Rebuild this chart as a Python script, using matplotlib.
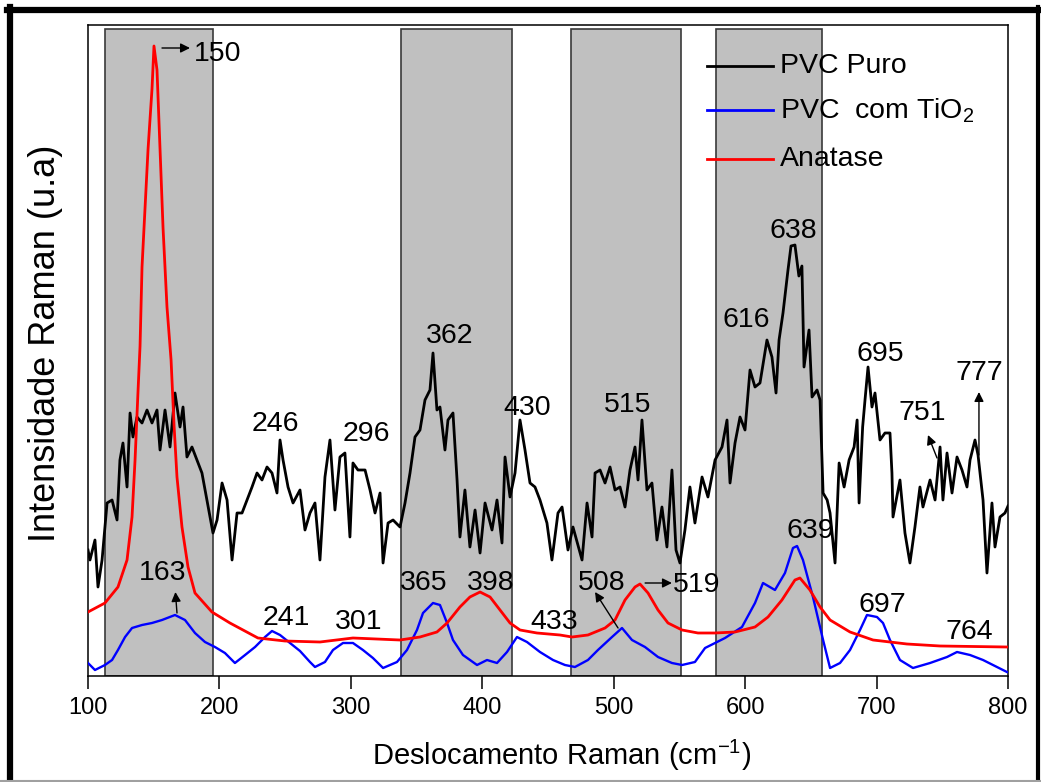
import matplotlib
matplotlib.use("Agg")
import matplotlib.pyplot as plt
from matplotlib.lines import Line2D
from matplotlib.patches import Rectangle

plt.rcParams["font.family"] = ["Liberation Sans", "DejaVu Sans"]
plt.rcParams["mathtext.fontset"] = "custom"
plt.rcParams["mathtext.rm"] = "Liberation Sans"
plt.rcParams["mathtext.it"] = "Liberation Sans"

# =========================
# dados
# =========================

# PVC Puro (preto)
pvc_x = [100.0, 101.5, 105.3, 107.6, 110.7, 114.5, 118.3, 122.1, 124.3, 126.6,
         129.7, 132.0, 134.2, 137.3, 141.1, 144.9, 148.7, 152.5, 154.8, 158.6,
         162.4, 166.2, 170.0, 172.3, 175.3, 179.1, 182.9, 186.7, 190.5, 195.1,
         198.2, 202.0, 205.8, 209.6, 213.4, 217.2, 221.0, 224.8, 228.6, 232.4,
         236.2, 240.0, 243.8, 246.1, 248.4, 252.2, 256.0, 261.3, 265.1, 268.9,
         272.7, 276.5, 280.3, 284.1, 287.9, 291.7, 295.5, 299.3, 301.6, 305.4,
         310.8, 314.6, 318.4, 322.2, 324.5, 328.3, 332.1, 337.4, 341.2, 345.0,
         348.8, 352.6, 356.4, 360.2, 362.5, 365.5, 367.8, 371.6, 373.9, 377.7,
         380.8, 383.0, 386.8, 390.6, 394.5, 398.3, 402.1, 407.4, 411.2, 415.0,
         417.3, 421.1, 424.9, 428.7, 432.5, 436.3, 440.1, 443.9, 449.2, 453.0,
         457.6, 460.7, 465.2, 469.0, 475.9, 479.7, 483.5, 485.8, 489.6, 493.4,
         497.2, 501.0, 504.8, 508.6, 512.4, 516.2, 518.5, 521.5, 525.3, 529.1,
         532.9, 536.7, 540.5, 544.3, 547.4, 550.4, 554.2, 558.0, 561.8, 567.2,
         571.7, 577.1, 582.4, 586.2, 588.5, 592.3, 596.1, 599.9, 603.7, 607.5,
         611.3, 616.6, 620.4, 623.5, 625.8, 628.8, 632.6, 634.9, 637.9, 640.9,
         643.2, 644.8, 648.6, 650.9, 654.7, 657.0, 659.3, 662.4, 664.6, 668.4,
         671.5, 675.3, 679.1, 682.9, 685.2, 686.7, 689.4, 691.2, 693.5, 696.5,
         698.8, 702.6, 706.4, 710.2, 711.7, 712.5, 717.8, 721.6, 725.4, 729.2,
         733.0, 735.3, 740.7, 744.5, 748.3, 750.5, 753.6, 757.4, 761.2, 765.0,
         768.8, 771.1, 774.9, 777.2, 781.0, 784.0, 787.8, 790.1, 793.9, 797.7,
         800.0]
pvc_y = [126, 116, 136, 89, 116, 173, 176, 156, 216, 233,
         189, 263, 239, 259, 253, 266, 253, 266, 226, 266,
         229, 283, 249, 269, 219, 229, 216, 203, 176, 143,
         156, 193, 176, 116, 163, 163, 176, 189, 203, 196,
         209, 203, 183, 236, 216, 189, 173, 186, 146, 163,
         173, 116, 199, 236, 166, 219, 223, 139, 213, 206,
         206, 186, 163, 183, 113, 153, 156, 149, 173, 203,
         239, 246, 276, 286, 323, 266, 269, 226, 256, 263,
         196, 139, 186, 129, 166, 123, 173, 146, 176, 133,
         219, 179, 203, 256, 226, 193, 189, 176, 153, 116,
         163, 169, 126, 149, 116, 173, 139, 203, 206, 193,
         209, 186, 189, 169, 206, 229, 196, 256, 186, 193,
         136, 169, 129, 206, 126, 113, 146, 189, 153, 199,
         179, 216, 229, 256, 193, 233, 259, 246, 306, 289,
         293, 336, 319, 283, 336, 363, 406, 430, 431, 400,
         410, 309, 346, 279, 286, 276, 183, 176, 163, 113,
         213, 189, 216, 229, 256, 173, 249, 276, 309, 269,
         283, 236, 243, 243, 203, 159, 196, 143, 113, 149,
         189, 169, 196, 176, 229, 176, 223, 183, 219, 206,
         189, 216, 236, 221, 176, 103, 173, 129, 159, 163,
         170]

# PVC com TiO2 (azul)
tio2_x = [100.0, 105.3, 112.9, 118.3, 122.8, 128.2, 133.5, 141.1, 148.7, 156.3,
          166.2, 173.8, 181.4, 189.0, 196.6, 204.2, 211.8, 219.5, 227.1, 234.7,
          240.0, 246.1, 253.7, 261.3, 268.9, 272.7, 280.3, 286.4, 294.0, 301.6,
          309.2, 316.8, 324.5, 335.1, 342.7, 350.3, 354.9, 362.5, 367.8, 373.2,
          377.7, 385.3, 396.0, 403.6, 411.2, 418.8, 426.4, 434.0, 443.9, 453.8,
          462.9, 470.5, 480.4, 488.0, 498.7, 506.3, 513.9, 523.8, 533.7, 544.3,
          552.0, 561.8, 569.5, 577.1, 584.7, 597.6, 607.5, 613.6, 622.7, 630.3,
          636.4, 639.5, 644.0, 651.6, 659.3, 664.6, 672.2, 679.8, 687.4, 692.7,
          700.3, 704.9, 710.2, 717.8, 727.7, 740.7, 753.6, 761.2, 771.1, 781.0,
          791.6, 799.2]
tio2_y = [13, 6, 11, 16, 26, 39, 48, 51, 53, 56,
          61, 56, 43, 34, 29, 23, 13, 21, 29, 39,
          45, 41, 33, 25, 14, 9, 14, 26, 33, 33,
          26, 18, 8, 14, 26, 46, 63, 73, 71, 53,
          36, 21, 11, 16, 13, 24, 39, 34, 24, 16,
          11, 9, 16, 26, 39, 48, 36, 29, 19, 13,
          11, 14, 28, 33, 38, 49, 73, 93, 86, 103,
          128, 130, 116, 79, 36, 8, 13, 26, 46, 61,
          59, 53, 36, 16, 8, 13, 19, 24, 21, 16,
          9, 4]

# Anatase (vermelho)
anat_x = [100.0, 112.9, 122.8, 129.7, 133.5, 135.8, 138.0, 139.6, 141.1, 143.4,
          145.7, 148.7, 150.2, 152.5, 154.8, 157.1, 160.1, 163.2, 165.5, 167.7,
          171.5, 176.1, 181.4, 194.3, 208.0, 229.3, 249.9, 276.5, 301.6, 337.4,
          352.6, 365.5, 373.2, 383.0, 390.6, 398.3, 405.9, 413.5, 421.1, 428.7,
          441.6, 459.1, 468.3, 480.4, 493.4, 501.0, 508.6, 516.2, 520.0, 526.1,
          533.7, 541.3, 552.0, 564.1, 577.1, 592.3, 607.5, 617.4, 628.0, 637.9,
          641.7, 649.3, 657.0, 664.6, 679.8, 697.3, 723.1, 748.3, 799.2]
anat_y = [64, 73, 89, 116, 159, 216, 283, 330, 409, 468,
          527, 587, 630, 606, 527, 448, 369, 316, 250, 199,
          149, 109, 83, 64, 53, 38, 35, 34, 38, 36,
          39, 44, 53, 69, 79, 84, 79, 66, 53, 46,
          43, 41, 39, 41, 48, 56, 76, 89, 92, 83,
          66, 53, 46, 43, 43, 44, 49, 59, 76, 96,
          98, 86, 69, 56, 44, 36, 32, 30, 29]

# faixas sombreadas
band_start = [113.0, 338.0, 467.5, 578.0]
band_end = [195.0, 422.5, 551.5, 658.5]

# rotulos dos picos (texto, x, y)
peak_text = ["150", "163", "246", "296", "241", "301", "362", "365", "398",
             "430", "433", "515", "508", "519", "616", "638", "639", "695",
             "697", "751", "777", "764"]
peak_x = [180.7, 157.0, 242.3, 311.5, 250.6, 306.2, 375.4, 355.7, 406.6,
          434.0, 454.6, 510.9, 491.1, 563.4, 600.6, 636.4, 649.3, 702.6,
          704.1, 734.6, 777.9, 770.3]
peak_y = [622, 103, 252, 242, 58, 54, 340, 93, 93,
          268, 54, 271, 93, 91, 356, 445, 145, 322,
          71, 263, 303, 44]

# setas (inicio -> fim)
arrow_x0 = [156.3, 167.7, 503.3, 523.9, 746.0, 777.9]
arrow_y0 = [628, 63, 48, 93, 218, 221]
arrow_x1 = [177.6, 166.5, 485.8, 544.3, 739.1, 777.9]
arrow_y1 = [628, 84, 84, 93, 241, 284]

# =========================
# figura
# =========================

fig = plt.figure(figsize=(10.41, 7.82), dpi=100)
ax = fig.add_axes([88 / 1041, 106 / 782, 920 / 1041, 651 / 782])

for a, b in zip(band_start, band_end):
    ax.add_patch(Rectangle((a, 0), b - a, 647, facecolor="#c0c0c0",
                           edgecolor="#3a3a3a", linewidth=1.2, zorder=1))

ax.plot(pvc_x, pvc_y, color="black", linewidth=2.0, zorder=3)
ax.plot(tio2_x, tio2_y, color="#0000ff", linewidth=1.7, zorder=4)
ax.plot(anat_x, anat_y, color="#ff0000", linewidth=2.0, zorder=5)

for t, x, y in zip(peak_text, peak_x, peak_y):
    ha = "left" if t == "150" else "center"
    ax.text(x, y, t, fontsize=20.5, ha=ha, va="center", zorder=6)

for x0, y0, x1, y1 in zip(arrow_x0, arrow_y0, arrow_x1, arrow_y1):
    ax.annotate("", xy=(x1, y1), xytext=(x0, y0),
                arrowprops=dict(arrowstyle="-|>", color="black", lw=1.0,
                                mutation_scale=14, shrinkA=0, shrinkB=0),
                zorder=6)

# legenda manual
leg_labels = ["PVC Puro", "PVC  com TiO$_2$", "Anatase"]
leg_colors = ["black", "#0000ff", "#ff0000"]
leg_rows = [0.937, 0.869, 0.794]
for lab, col, yy in zip(leg_labels, leg_colors, leg_rows):
    ax.plot([0.673, 0.745], [yy, yy], color=col, linewidth=2.0,
            transform=ax.transAxes, zorder=7)
    ax.text(0.752, yy, lab, fontsize=20.5, ha="left", va="center",
            transform=ax.transAxes, zorder=7)

ax.set_xlim(100, 800)
ax.set_ylim(0, 651)
ax.set_xticks([100, 200, 300, 400, 500, 600, 700, 800])
ax.set_yticks([])
ax.tick_params(axis="x", direction="out", length=9, width=1.1,
               labelsize=17, pad=6)
for s in ax.spines.values():
    s.set_linewidth(1.1)

ax.set_xlabel("Deslocamento Raman (cm$^{-1}$)", fontsize=21)
ax.set_ylabel("Intensidade Raman (u.a)", fontsize=26)
ax.xaxis.set_label_coords(0.515, -0.095)
ax.yaxis.set_label_coords(-0.027, 0.511)

# moldura externa
fig.add_artist(Line2D([10 / 1041, 10 / 1041], [0, 1 - 7 / 782],
                      transform=fig.transFigure, color="black", linewidth=4.5))
fig.add_artist(Line2D([7 / 1041, 1], [1 - 10 / 782, 1 - 10 / 782],
                      transform=fig.transFigure, color="black", linewidth=4.5))
fig.add_artist(Line2D([1038 / 1041, 1038 / 1041], [0, 1 - 7 / 782],
                      transform=fig.transFigure, color="black", linewidth=3))
fig.add_artist(Line2D([0, 1], [1.5 / 782, 1.5 / 782],
                      transform=fig.transFigure, color="#a0a0a0", linewidth=1.5))

fig.savefig("out.png", dpi=100)
